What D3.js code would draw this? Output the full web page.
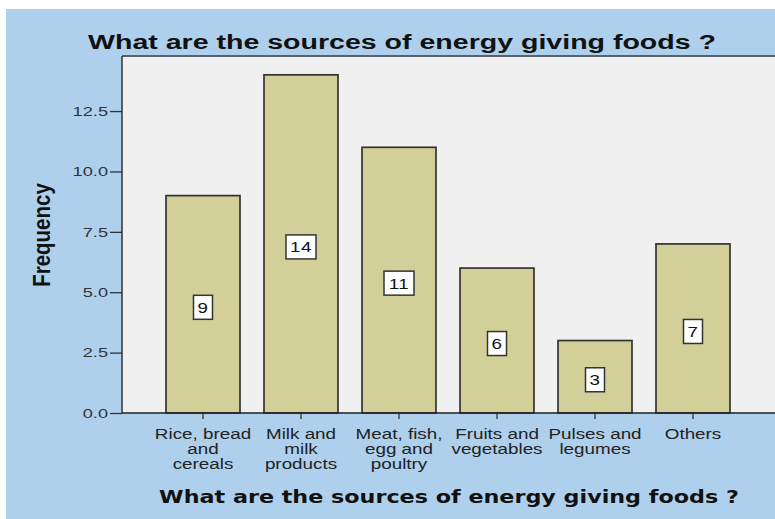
<!DOCTYPE html>
<html>
<head>
<meta charset="utf-8">
<script src="https://cdn.jsdelivr.net/npm/d3@7"></script>
<style>
  html, body { margin: 0; padding: 0; background: #ffffff; }
  svg { display: block; }
</style>
</head>
<body>
<svg id="chart" width="775" height="519"></svg>
<script>
// Survey answers: what are the sources of energy giving foods?
const categories = [
  "Rice, bread and cereals",
  "Milk and milk products",
  "Meat, fish, egg and poultry",
  "Fruits and vegetables",
  "Pulses and legumes",
  "Others"
];
const categoryLines = [
  ["Rice, bread", "and", "cereals"],
  ["Milk and", "milk", "products"],
  ["Meat, fish,", "egg and", "poultry"],
  ["Fruits and", "vegetables"],
  ["Pulses and", "legumes"],
  ["Others"]
];
const frequencies = [9, 14, 11, 6, 3, 7];
const yTicks = [0, 2.5, 5, 7.5, 10, 12.5];
const chartTitle = "What are the sources of energy giving foods ?";
const xTitle = "What are the sources of energy giving foods ?";
const yTitle = "Frequency";

const svg = d3.select("#chart");
const W = 775, H = 519;
const SANS = "'Liberation Sans', Arial, sans-serif";
const WIDE = 1.36; // horizontal stretch of the lettering

// Outer panel
svg.append("rect").attr("x", 6).attr("y", 9).attr("width", W - 6).attr("height", H - 9)
  .attr("fill", "#aed0ec");

const plot = { left: 122, top: 56, right: 776, bottom: 413 };

const x = d3.scaleBand()
  .domain(categories)
  .range([154, 742])
  .paddingInner(0.245)
  .paddingOuter(0.1225);

const y = d3.scaleLinear()
  .domain([0, 14.78])
  .range([plot.bottom, plot.top]);

// Plot background
svg.append("rect")
  .attr("x", plot.left).attr("y", plot.top)
  .attr("width", plot.right - plot.left).attr("height", plot.bottom - plot.top)
  .attr("fill", "#f0f0f0");

// Bars
svg.append("g").selectAll("rect")
  .data(frequencies)
  .join("rect")
  .attr("x", (d, i) => x(categories[i]))
  .attr("y", d => y(d))
  .attr("width", x.bandwidth())
  .attr("height", d => y(0) - y(d))
  .attr("fill", "#d3cf98")
  .attr("stroke", "#333")
  .attr("stroke-width", 1.7);

// Frame lines (left and top)
svg.append("line").attr("x1", plot.left).attr("x2", plot.right)
  .attr("y1", plot.top).attr("y2", plot.top)
  .attr("stroke", "#5a6068").attr("stroke-width", 2);
svg.append("line").attr("x1", plot.left).attr("x2", plot.left)
  .attr("y1", plot.top).attr("y2", plot.bottom)
  .attr("stroke", "#333").attr("stroke-width", 1.5);

// Y axis
const yAxis = svg.append("g")
  .attr("transform", `translate(${plot.left},0)`)
  .call(d3.axisLeft(y).tickValues(yTicks).tickFormat(d3.format(".1f")).tickSize(12));
yAxis.select(".domain").remove();
yAxis.selectAll(".tick line").attr("stroke", "#333").attr("stroke-width", 1.3);
yAxis.selectAll(".tick text")
  .attr("x", 0)
  .attr("transform", `translate(-14,0) scale(${WIDE + 0.04},1)`)
  .attr("fill", "#333")
  .style("font-family", SANS)
  .style("font-size", "13px");

// X axis
const xAxis = svg.append("g")
  .attr("transform", `translate(0,${plot.bottom})`)
  .call(d3.axisBottom(x).tickSize(6).tickFormat(""));
xAxis.select(".domain").remove();
xAxis.selectAll(".tick line").attr("stroke", "#333").attr("stroke-width", 1.3);
svg.append("line").attr("x1", plot.left).attr("x2", plot.right)
  .attr("y1", plot.bottom).attr("y2", plot.bottom)
  .attr("stroke", "#222").attr("stroke-width", 1.6);

// Category labels (multi-line)
categories.forEach((c, i) => {
  const cx = x(c) + x.bandwidth() / 2;
  const t = svg.append("text")
    .attr("transform", `translate(${cx},439) scale(1.3,1)`)
    .attr("text-anchor", "middle")
    .attr("fill", "#222")
    .style("font-family", SANS)
    .style("font-size", "14.5px");
  categoryLines[i].forEach((ln, j) => {
    t.append("tspan").attr("x", 0).attr("y", j * 15).text(ln);
  });
});

// Value labels in boxes at half bar height
frequencies.forEach((v, i) => {
  const cx = x(categories[i]) + x.bandwidth() / 2;
  const cy = y(v / 2) + 3;
  const txt = String(v);
  const bw = txt.length === 1 ? 19 : 30;
  const bh = 24;
  svg.append("rect")
    .attr("x", cx - bw / 2).attr("y", cy - bh / 2)
    .attr("width", bw).attr("height", bh)
    .attr("fill", "#ffffff").attr("stroke", "#333").attr("stroke-width", 1.5);
  svg.append("text")
    .attr("transform", `translate(${cx},${cy + 5.5}) scale(1.25,1)`)
    .attr("text-anchor", "middle")
    .attr("fill", "#111")
    .style("font-family", SANS)
    .style("font-size", "15px")
    .style("letter-spacing", "0.5px")
    .text(txt);
});

// Chart title
svg.append("text")
  .attr("transform", `translate(402,49) scale(${WIDE},1)`)
  .attr("text-anchor", "middle")
  .attr("fill", "#111")
  .style("font-family", SANS)
  .style("font-weight", "bold")
  .style("font-size", "21px")
  .text(chartTitle);

// X axis title
svg.append("text")
  .attr("transform", "translate(449,503) scale(1.31,1)")
  .attr("text-anchor", "middle")
  .attr("fill", "#111")
  .style("font-family", "'DejaVu Sans', Verdana, sans-serif")
  .style("font-weight", "bold")
  .style("font-size", "17px")
  .text(xTitle);

// Y axis title
svg.append("text")
  .attr("transform", "translate(50,235) rotate(-90) scale(1,1.2)")
  .attr("text-anchor", "middle")
  .attr("fill", "#111")
  .style("font-family", SANS)
  .style("font-weight", "bold")
  .style("font-size", "20.5px")
  .text(yTitle);
</script>
</body>
</html>
